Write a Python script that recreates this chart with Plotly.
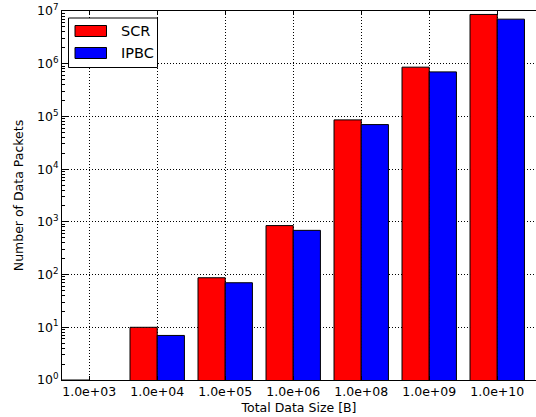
import plotly.graph_objects as go

categories = ["1.0e+03", "1.0e+04", "1.0e+05", "1.0e+06", "1.0e+08", "1.0e+09", "1.0e+10"]
scr_values = [1, 10, 87, 850, 86000, 860000, 8600000]
ipbc_values = [0.7, 7, 70, 690, 70000, 700000, 7000000]
series_names = ["SCR", "IPBC"]
series_colors = ["#ff0000", "#0000ff"]
y_tick_vals = [1, 10, 100, 1000, 10000, 100000, 1000000, 10000000]
y_tick_text = ["10<sup>%d</sup>" % i for i in range(8)]

FONT = "DejaVu Sans"
FS = 12.5

fig = go.Figure()
for name, vals, col in zip(series_names, [scr_values, ipbc_values], series_colors):
    fig.add_trace(go.Bar(
        x=categories, y=vals, name=name,
        marker=dict(color=col, line=dict(color="black", width=1)),
        showlegend=False,
    ))

minor_vals = [m * 10 ** k for k in range(7) for m in range(2, 10)]
DOT = "1px,2px"

fig.update_layout(
    width=536, height=417,
    margin=dict(l=62, r=0, t=11, b=37),
    paper_bgcolor="white", plot_bgcolor="white",
    barmode="group", bargap=0.2, bargroupgap=0,
    font=dict(family=FONT, size=FS, color="black"),
    xaxis=dict(
        type="category", range=[-0.4, 6.57],
        showline=True, linecolor="black", linewidth=1, mirror="ticks",
        ticks="inside", ticklen=4, tickcolor="black",
        showgrid=True, gridcolor="black", gridwidth=1, griddash=DOT,
        tickfont=dict(family=FONT, size=FS),
        title=dict(text="Total Data Size [B]", font=dict(family=FONT, size=FS), standoff=5),
        zeroline=False, automargin=False,
    ),
    yaxis=dict(
        type="log", range=[0, 7],
        tickvals=y_tick_vals, ticktext=y_tick_text,
        showline=True, linecolor="black", linewidth=1, mirror=False,
        ticks="inside", ticklen=6, tickcolor="black",
        showgrid=True, gridcolor="black", gridwidth=1, griddash=DOT,
        tickfont=dict(family=FONT, size=FS),
        minor=dict(tickvals=minor_vals, ticks="inside", ticklen=3, tickcolor="black", showgrid=False),
        title=dict(text="Number of Data Packets", font=dict(family=FONT, size=FS), standoff=10),
        zeroline=False, automargin=False,
    ),
)

# legend drawn as box + patches + labels (matplotlib-style)
L, R, T, B = 62, 536, 11, 380
def px(x):
    return (x - L) / (R - L)
def py(y):
    return (B - y) / (B - T)

fig.add_shape(type="rect", xref="paper", yref="paper",
              x0=px(68.5), x1=px(157.5), y0=py(67.5), y1=py(18),
              line=dict(color="black", width=1), fillcolor="white", layer="above")
for i, (name, col) in enumerate(zip(series_names, series_colors)):
    y0 = 25.5 + i * 22
    fig.add_shape(type="rect", xref="paper", yref="paper",
                  x0=px(75), x1=px(106.5), y0=py(y0 + 11), y1=py(y0),
                  line=dict(color="black", width=1), fillcolor=col, layer="above")
    fig.add_annotation(xref="paper", yref="paper", x=px(119), y=py(y0 + 5.5),
                       text=name, showarrow=False, xanchor="left", yanchor="middle",
                       font=dict(family=FONT, size=14.5, color="black"))

fig.write_html("out.html", config={"displayModeBar": False},
               post_script="document.body.style.margin='0';document.body.style.overflow='hidden';")
